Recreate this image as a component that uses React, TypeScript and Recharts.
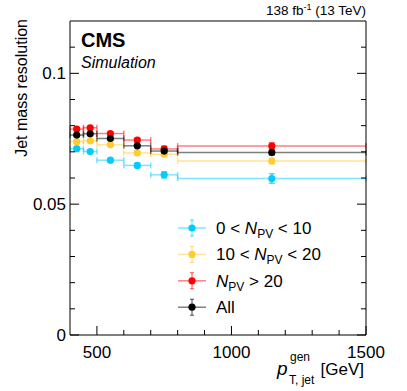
import React from 'react';
import { ComposedChart, Scatter, ErrorBar, XAxis, YAxis } from 'recharts';

// bin centres and half widths (GeV)
const ptCenters = [425, 475, 550, 650, 750, 1150];
const ptHalfWidths = [25, 25, 50, 50, 50, 350];

// jet mass resolution per pileup category
const resNpvLow = [0.0712, 0.0701, 0.0668, 0.0648, 0.0612, 0.0598];
const resNpvMid = [0.0739, 0.0742, 0.0727, 0.0696, 0.0691, 0.0665];
const resNpvHigh = [0.0787, 0.0792, 0.077, 0.0745, 0.0711, 0.0722];
const resAll = [0.0764, 0.0769, 0.0751, 0.0723, 0.0703, 0.0697];

const errNpvLow = [0.0006, 0.0006, 0.0006, 0.0008, 0.0012, 0.0018];
const errNpvMid = [0.0005, 0.0005, 0.0005, 0.0006, 0.0008, 0.001];
const errNpvHigh = [0.0006, 0.0006, 0.0006, 0.0007, 0.001, 0.0012];
const errAll = [0.0004, 0.0004, 0.0004, 0.0005, 0.0006, 0.0008];

const xTicks = [500, 600, 700, 800, 900, 1000, 1100, 1200, 1300, 1400, 1500];
const xLabelTicks = [500, 1000, 1500];
const yTicks = [0, 0.01, 0.02, 0.03, 0.04, 0.05, 0.06, 0.07, 0.08, 0.09, 0.1, 0.11];
const yLabelTicks = ['0', '0.05', '0.1'];

const FONT = '"Liberation Sans", Arial, Helvetica, sans-serif';

const series = [
  { key: 'low', label: ['0 < ', ' < 10'], values: resNpvLow, errs: errNpvLow, color: '#00ccff' },
  { key: 'mid', label: ['10 < ', ' < 20'], values: resNpvMid, errs: errNpvMid, color: '#ffcc33' },
  { key: 'high', label: ['', ' > 20'], values: resNpvHigh, errs: errNpvHigh, color: '#ff0000' },
  { key: 'all', label: null, values: resAll, errs: errAll, color: '#000000' },
];

const toRows = (values: number[], errs: number[]) =>
  ptCenters.map((pt, i) => ({ pt, res: values[i], ex: ptHalfWidths[i], ey: errs[i] }));

const isMajorX = (v: number) => xLabelTicks.includes(v);
const isMajorY = (v: number) => yLabelTicks.includes(String(v));

const BottomTick = ({ x, y, payload }: any) => {
  const major = isMajorX(payload.value);
  return (
    <g>
      <line x1={x} x2={x} y1={y} y2={y - (major ? 9 : 5)} stroke="#000" />
      {major && (
        <text x={x} y={y + 23} textAnchor="middle" fontSize={17} fill="#000">
          {payload.value}
        </text>
      )}
    </g>
  );
};

const TopTick = ({ x, y, payload }: any) => (
  <line x1={x} x2={x} y1={y} y2={y + (isMajorX(payload.value) ? 9 : 5)} stroke="#000" />
);

const LeftTick = ({ x, y, payload }: any) => {
  const major = isMajorY(payload.value);
  return (
    <g>
      <line x1={x} x2={x + (major ? 9 : 5)} y1={y} y2={y} stroke="#000" />
      {major && (
        <text x={x - 4} y={y + 6} textAnchor="end" fontSize={17} fill="#000">
          {payload.value}
        </text>
      )}
    </g>
  );
};

const RightTick = ({ x, y, payload }: any) => (
  <line x1={x} x2={x - (isMajorY(payload.value) ? 9 : 5)} y1={y} y2={y} stroke="#000" />
);

const dot = (color: string) => (props: any) =>
  <circle cx={props.cx} cy={props.cy} r={3.6} fill={color} />;

const Overlay = () => (
  <svg
    width={407}
    height={391}
    style={{ position: 'absolute', left: 0, top: 0, pointerEvents: 'none', fontFamily: FONT }}
  >
    <text x={366} y={15} textAnchor="end" fontSize={13.5}>
      138 fb<tspan dy={-5} fontSize={9}>-1</tspan>
      <tspan dy={5}> (13 TeV)</tspan>
    </text>
    <text x={81} y={47} fontSize={20} fontWeight="bold">CMS</text>
    <text x={81} y={68} fontSize={16} fontStyle="italic">Simulation</text>
    <text x={27} y={19} fontSize={16} textAnchor="end" transform="rotate(-90 27 19)">
      Jet mass resolution
    </text>
    <text x={277} y={375} fontSize={19} fontStyle="italic">p</text>
    <text x={290} y={361} fontSize={12}>gen</text>
    <text x={289} y={384} fontSize={12}>T, jet</text>
    <text x={364} y={375} fontSize={17} textAnchor="end">[GeV]</text>
    {series.map((s, i) => {
      const cy = 228 + i * 26.4;
      return (
        <g key={s.key}>
          <line x1={178} x2={206} y1={cy} y2={cy} stroke={s.color} strokeOpacity={0.5} strokeWidth={1.5} />
          <line x1={192} x2={192} y1={cy - 8} y2={cy + 8} stroke={s.color} strokeOpacity={0.7} />
          <line x1={190} x2={194} y1={cy - 8} y2={cy - 8} stroke={s.color} strokeOpacity={0.7} />
          <line x1={190} x2={194} y1={cy + 8} y2={cy + 8} stroke={s.color} strokeOpacity={0.7} />
          <circle cx={192} cy={cy} r={3.6} fill={s.color} />
          {s.label ? (
            <text x={216} y={cy + 6} fontSize={17}>
              {s.label[0]}
              <tspan fontStyle="italic">N</tspan>
              <tspan dy={4} fontSize={12}>PV</tspan>
              <tspan dy={-4}>{s.label[1]}</tspan>
            </text>
          ) : (
            <text x={216} y={cy + 6} fontSize={17}>All</text>
          )}
        </g>
      );
    })}
  </svg>
);

export default function App() {
  return (
    <div style={{ position: 'absolute', left: 0, top: 0, width: 407, height: 391, background: '#fff', fontFamily: FONT }}>
      <ComposedChart width={407} height={391} margin={{ top: 20, right: 40, bottom: 55, left: 69 }}>
        <XAxis
          xAxisId={0}
          type="number"
          dataKey="pt"
          domain={[400, 1500]}
          ticks={xTicks}
          interval={0}
          height={1}
          tickSize={0}
          tickMargin={0}
          tick={<BottomTick />}
          tickLine={false}
          stroke="#000"
          allowDataOverflow
        />
        <XAxis
          xAxisId="top"
          orientation="top"
          type="number"
          domain={[400, 1500]}
          ticks={xTicks}
          interval={0}
          height={1}
          tickSize={0}
          tickMargin={0}
          tick={<TopTick />}
          tickLine={false}
          stroke="#000"
          allowDataOverflow
        />
        <YAxis
          yAxisId={0}
          type="number"
          domain={[0, 0.12]}
          ticks={yTicks}
          interval={0}
          width={1}
          tickSize={0}
          tickMargin={0}
          tick={<LeftTick />}
          tickLine={false}
          stroke="#000"
          allowDataOverflow
        />
        <YAxis
          yAxisId="right"
          orientation="right"
          type="number"
          domain={[0, 0.12]}
          ticks={yTicks}
          interval={0}
          width={1}
          tickSize={0}
          tickMargin={0}
          tick={<RightTick />}
          tickLine={false}
          stroke="#000"
          allowDataOverflow
        />
        {series.map((s) => (
          <Scatter
            key={s.key}
            data={toRows(s.values, s.errs)}
            dataKey="res"
            xAxisId={0}
            yAxisId={0}
            fill={s.color}
            shape={dot(s.color)}
            isAnimationActive={false}
          >
            <ErrorBar dataKey="ex" direction="x" width={3} stroke={s.color} strokeOpacity={0.5} strokeWidth={1.5} isAnimationActive={false} />
            <ErrorBar dataKey="ey" direction="y" width={3} stroke={s.color} strokeOpacity={0.7} isAnimationActive={false} />
          </Scatter>
        ))}
      </ComposedChart>
      <Overlay />
    </div>
  );
}
